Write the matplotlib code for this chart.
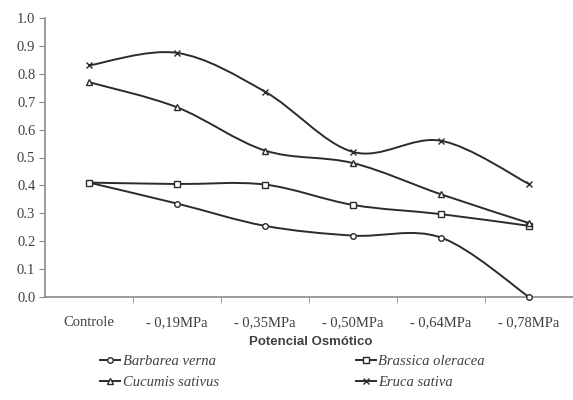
import numpy as np
import matplotlib
matplotlib.use("Agg")
import matplotlib.pyplot as plt
from matplotlib.path import Path
from matplotlib.patches import PathPatch
from matplotlib.lines import Line2D

categories = ["Controle", "- 0,19MPa", "- 0,35MPa", "- 0,50MPa", "- 0,64MPa", "- 0,78MPa"]
barbarea = [0.41, 0.335, 0.255, 0.22, 0.213, 0.0]
brassica = [0.41, 0.405, 0.403, 0.33, 0.297, 0.255]
cucumis = [0.77, 0.68, 0.525, 0.48, 0.368, 0.265]
eruca = [0.83, 0.875, 0.736, 0.52, 0.56, 0.405]
y_ticks = [0.0, 0.1, 0.2, 0.3, 0.4, 0.5, 0.6, 0.7, 0.8, 0.9, 1.0]

series = [
    ("Barbarea verna", barbarea, "o", 4),
    ("Brassica oleracea", brassica, "s", 5),
    ("Cucumis sativus", cucumis, "^", 5),
    ("Eruca sativa", eruca, "x", 5),
]

line_col = "#2b2b2b"
axis_col = "#8a8a8a"
text_col = "#404040"


def smooth_path(x, y, t=1 / 6):
    """Cubic Bezier path through the points (Catmull-Rom style)."""
    x = np.asarray(x, float)
    y = np.asarray(y, float)
    n = len(x)
    verts = [(x[0], y[0])]
    codes = [Path.MOVETO]
    for i in range(n - 1):
        p0 = i - 1 if i > 0 else i
        p3 = i + 2 if i + 2 < n else i + 1
        c1 = (x[i] + (x[i + 1] - x[p0]) * t, y[i] + (y[i + 1] - y[p0]) * t)
        c2 = (x[i + 1] - (x[p3] - x[i]) * t, y[i + 1] - (y[p3] - y[i]) * t)
        verts += [c1, c2, (x[i + 1], y[i + 1])]
        codes += [Path.CURVE4] * 3
    return Path(verts, codes)


fig = plt.figure(figsize=(5.73, 4.0), dpi=100)
ax = fig.add_axes([0.0785, 0.2575, 0.9215, 0.6975])

xs = np.arange(len(categories))
handles = {}
for name, vals, mk, ms in series:
    ax.add_patch(PathPatch(smooth_path(xs, vals), fill=False, edgecolor=line_col,
                           lw=1.4, zorder=2))
    ax.plot(xs, vals, linestyle="none", marker=mk, markersize=ms,
            markerfacecolor="white", markeredgecolor=line_col,
            markeredgewidth=1.0, zorder=3, clip_on=False)
    handles[name] = Line2D([], [], color=line_col, lw=1.4, marker=mk,
                           markersize=ms, markerfacecolor="white",
                           markeredgecolor=line_col, markeredgewidth=1.0)

ax.set_xlim(-0.5, len(categories) - 0.5)
ax.set_ylim(0, 1.0)
ax.set_yticks(y_ticks)
ax.set_yticklabels([f"{v:.1f}" for v in y_ticks])
ax.set_xticks(xs)
ax.set_xticklabels(categories)
ax.set_xticks(xs[:-1] + 0.5, minor=True)
ax.tick_params(axis="x", which="major", length=0, pad=14)
ax.tick_params(axis="x", which="minor", length=4, color=axis_col, direction="out")
ax.tick_params(axis="y", length=4, color=axis_col, direction="out", pad=3)
for lab in ax.get_xticklabels() + ax.get_yticklabels():
    lab.set_fontfamily("Liberation Serif")
    lab.set_fontsize(10.5)
    lab.set_color(text_col)

for side in ["top", "right"]:
    ax.spines[side].set_visible(False)
for side in ["left", "bottom"]:
    ax.spines[side].set_color(axis_col)
    ax.spines[side].set_linewidth(1.2)

fig.text(0.543, 0.145, "Potencial Osmótico", ha="center", va="center",
         fontfamily="Liberation Sans", fontweight="bold", fontsize=9.5, color=text_col)

# two columns, filled row by row
order = ["Barbarea verna", "Cucumis sativus", "Brassica oleracea", "Eruca sativa"]
leg = fig.legend([handles[k] for k in order], order, loc="center left",
                 bbox_to_anchor=(100 / 573, 0.07), ncol=2, frameon=False,
                 borderpad=0, borderaxespad=0,
                 prop={"family": "Liberation Serif", "style": "italic", "size": 10.5},
                 handlelength=1.4, columnspacing=9.4, labelspacing=0.5,
                 handletextpad=0.15)
for t in leg.get_texts():
    t.set_color(text_col)

fig.savefig("out.png", dpi=100)
